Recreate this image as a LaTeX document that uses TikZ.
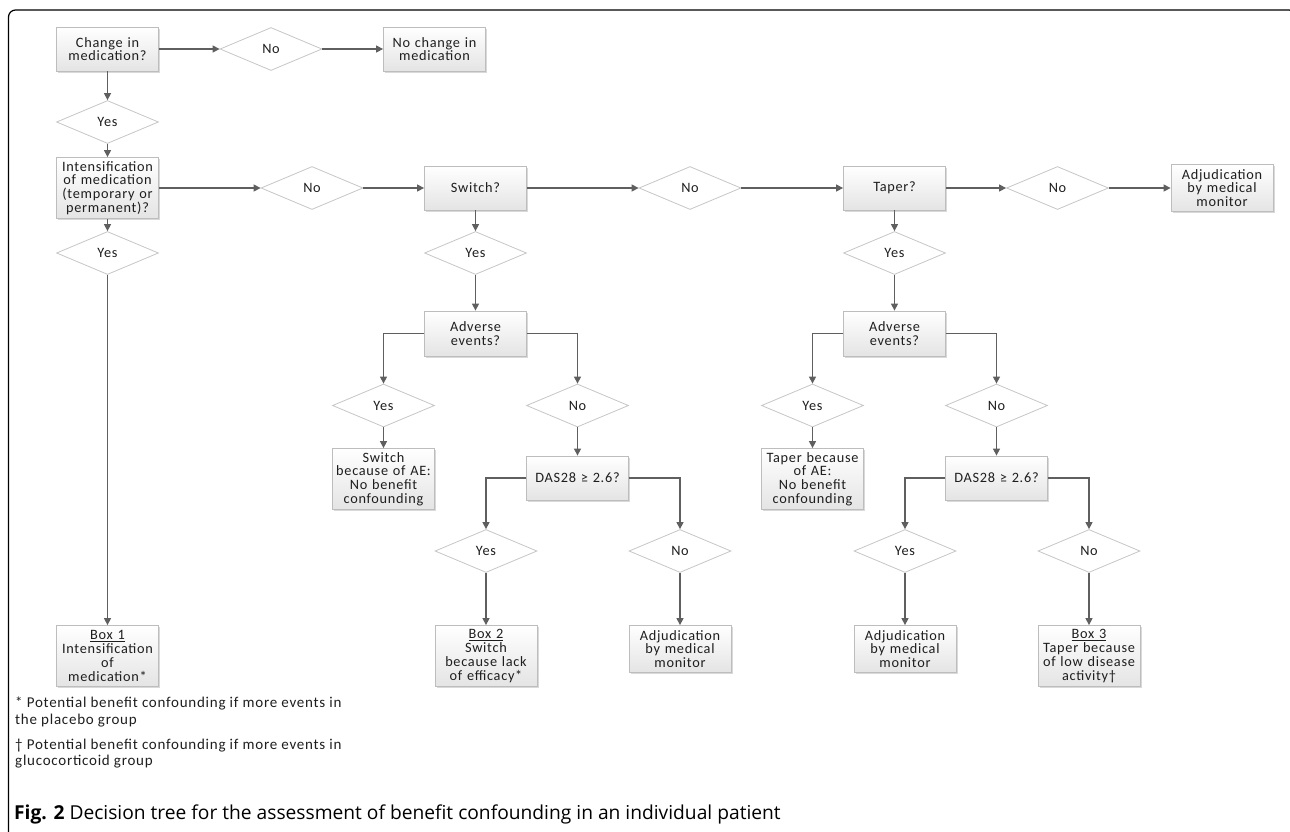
\documentclass[tikz,border=0pt]{standalone}
\usepackage{fontspec}
\setmainfont{Carlito}
\newfontfamily\boxfont{Carlito}[LetterSpace=5]
\newfontfamily\capfont{Open Sans}
\usetikzlibrary{shapes.geometric,arrows.meta,shadows}
\definecolor{arr}{HTML}{5F5F5F}
\definecolor{bord}{HTML}{BDBDBD}
\definecolor{dbord}{HTML}{C6C6C6}
\definecolor{boxbot}{HTML}{E4E4E4}
\definecolor{txt}{HTML}{1E1E1E}
\begin{document}
\begin{tikzpicture}[x=1pt,y=-1pt,
  bx/.style={rectangle, draw=bord, line width=0.8pt, top color=white, bottom color=boxbot,
    minimum width=102pt, text width=100pt, align=center, inner sep=0pt, text=txt,
    font=\boxfont\fontsize{14.3}{13.8}\selectfont,
    drop shadow={shadow xshift=1.5pt, shadow yshift=-1.5pt, fill=black, opacity=0.15}},
  bxa/.style={bx, minimum height=44pt},
  bxb/.style={bx, minimum height=47pt},
  bxc/.style={bx, minimum height=61pt},
  dia/.style={diamond, draw=dbord, line width=0.8pt, fill=white, minimum width=102pt, text=txt,
    minimum height=43pt, inner sep=0pt, font=\boxfont\fontsize{14.3}{13.8}\selectfont},
  conn/.style={draw=arr, line width=1.3pt, -{Triangle[length=7pt,width=7pt]}},
  note/.style={anchor=north west, align=left, inner sep=0pt, text=txt,
    font=\boxfont\fontsize{15}{16.2}\selectfont}
]
\useasboundingbox (0,0) rectangle (1290,831);
\draw[line width=1.2pt, rounded corners=7pt] (8.5,845) -- (8.5,10) -- (1296,10) -- (1296,845);

% row 1
\node[bxa] (change) at (107.5,49) {Change in\\medication?};
\node[dia] (no1) at (271,49) {No};
\node[bxa] (nochange) at (434.5,49) {No change in\\medication};
\node[dia] (yes1) at (107.5,122) {Yes};

% row 2
\node[bxc] (intens) at (107.5,188) {Intensification\\of medication\\(temporary or\\permanent)?};
\node[dia] (no2) at (312,188) {No};
\node[bxa] (switch) at (475.5,188) {Switch?};
\node[dia] (no3) at (690,188) {No};
\node[bxa] (taper) at (894.5,188) {Taper?};
\node[dia] (no4) at (1057.5,188) {No};
\node[bxb] (adj1) at (1222,188) {Adjudication\\by medical\\monitor};

% row 3
\node[dia] (yesI) at (107.5,253) {Yes};
\node[dia] (yesS) at (475.5,253) {Yes};
\node[dia] (yesT) at (894.5,253) {Yes};

\node[bxa, minimum height=45pt] (advS) at (475.5,333.5) {Adverse\\events?};
\node[bxa, minimum height=45pt] (advT) at (894.5,333.5) {Adverse\\events?};

\node[dia] (aeyS) at (383.5,405.5) {Yes};
\node[dia] (aenS) at (577.5,405.5) {No};
\node[dia] (aeyT) at (812.5,405.5) {Yes};
\node[dia] (aenT) at (996.5,405.5) {No};

\node[bxc] (aeboxS) at (383.5,479) {Switch\\because of AE:\\No benefit\\confounding};
\node[bxc] (aeboxT) at (812.5,479) {Taper because\\of AE:\\No benefit\\confounding};
\node[bxa] (dasS) at (577.5,478) {DAS28 ≥ 2.6?};
\node[bxa] (dasT) at (996.5,478) {DAS28 ≥ 2.6?};

\node[dia] (dyS) at (486,551) {Yes};
\node[dia] (dnS) at (680,551) {No};
\node[dia] (dyT) at (905,551) {Yes};
\node[dia] (dnT) at (1089,551) {No};

\node[bxc] (box1) at (107.5,656) {\underline{Box 1}\\Intensification\\of\\medication*};
\node[bxc] (box2) at (486,656) {\underline{Box 2}\\Switch\\because lack\\of efficacy*};
\node[bxb] (adjS) at (680,649) {Adjudication\\by medical\\monitor};
\node[bxb] (adjT) at (905,649) {Adjudication\\by medical\\monitor};
\node[bxc] (box3) at (1089,656) {\underline{Box 3}\\Taper because\\of low disease\\activity†};

% connectors
\draw[conn] (change) -- (no1);
\draw[conn] (no1) -- (nochange);
\draw[conn] (change) -- (yes1);
\draw[conn] (yes1) -- (intens);
\draw[conn] (intens) -- (no2);
\draw[conn] (no2) -- (switch);
\draw[conn] (switch) -- (no3);
\draw[conn] (no3) -- (taper);
\draw[conn] (taper) -- (no4);
\draw[conn] (no4) -- (adj1);
\draw[conn] (intens) -- (yesI);
\draw[conn] (yesI) -- (box1);
\draw[conn] (switch) -- (yesS);
\draw[conn] (yesS) -- (advS);
\draw[conn] (taper) -- (yesT);
\draw[conn] (yesT) -- (advT);
\draw[conn] (advS.west) -| (aeyS.north);
\draw[conn] (advS.east) -| (aenS.north);
\draw[conn] (advT.west) -| (aeyT.north);
\draw[conn] (advT.east) -| (aenT.north);
\draw[conn] (aeyS) -- (aeboxS);
\draw[conn] (aenS) -- (dasS);
\draw[conn] (aeyT) -- (aeboxT);
\draw[conn] (aenT) -- (dasT);
\draw[conn] (dasS.west) -| (dyS.north);
\draw[conn] (dasS.east) -| (dnS.north);
\draw[conn] (dasT.west) -| (dyT.north);
\draw[conn] (dasT.east) -| (dnT.north);
\draw[conn] (dyS) -- (box2);
\draw[conn] (dnS) -- (adjS);
\draw[conn] (dyT) -- (adjT);
\draw[conn] (dnT) -- (box3);

% footnotes
\node[note] (fn1) at (15,697) {* Potential benefit confounding if more events in\\the placebo group};
\node[note] (fn2) at (15,739) {† Potential benefit confounding if more events in\\glucocorticoid group};

% caption
\node[anchor=base west, inner sep=0pt, font=\capfont\fontsize{19.2}{21}\selectfont] (cap) at (14,819)
  {\textbf{Fig. 2} Decision tree for the assessment of benefit confounding in an individual patient};
\end{tikzpicture}
\end{document}
